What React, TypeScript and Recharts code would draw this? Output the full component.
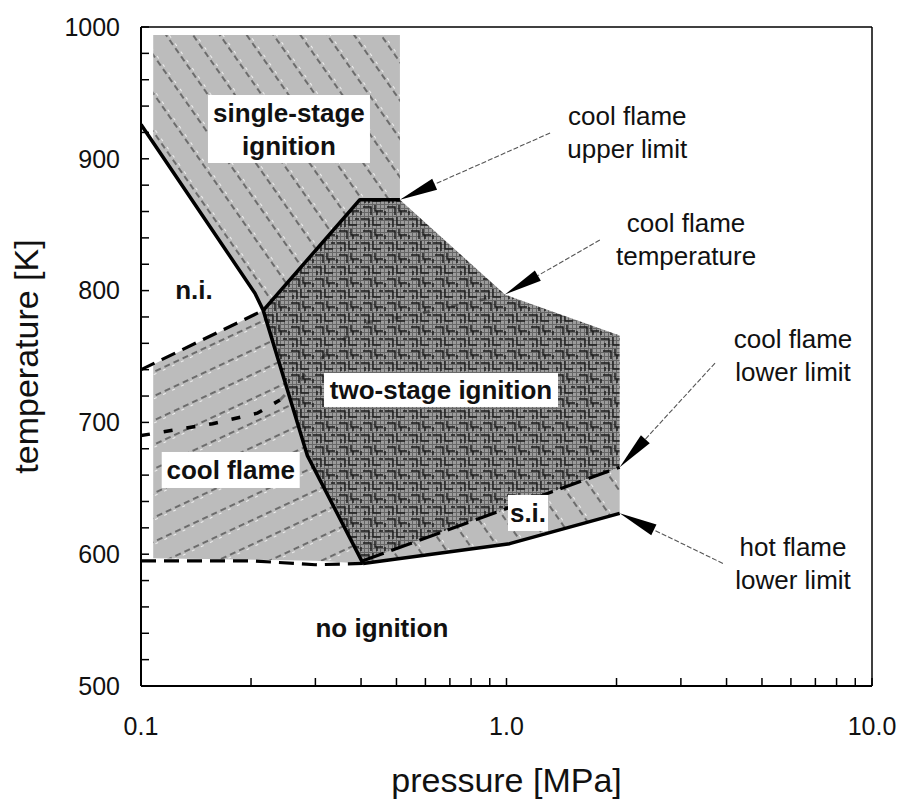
import React from "react";
import { ComposedChart, Scatter, XAxis, YAxis, ReferenceLine } from "recharts";

// vertices: p = pressure [MPa], T = temperature [K]
const singleStageRegion = [
  { p: 0.108, T: 994 }, { p: 0.511, T: 994 }, { p: 0.511, T: 869 }, { p: 0.397, T: 869 },
  { p: 0.216, T: 785 }, { p: 0.205, T: 798 }, { p: 0.108, T: 912 },
];
const coolFlameRegion = [
  { p: 0.108, T: 744 }, { p: 0.216, T: 785 }, { p: 0.285, T: 675 }, { p: 0.405, T: 593 },
  { p: 0.3, T: 595 }, { p: 0.108, T: 597 },
];
const twoStageRegion = [
  { p: 0.216, T: 785 }, { p: 0.397, T: 869 }, { p: 0.511, T: 869 }, { p: 0.99, T: 797 },
  { p: 2.04, T: 766 }, { p: 2.04, T: 666 }, { p: 0.405, T: 595 }, { p: 0.285, T: 675 },
];
const siRegion = [
  { p: 0.405, T: 595 }, { p: 2.04, T: 666 }, { p: 2.04, T: 631 }, { p: 1.02, T: 608 }, { p: 0.405, T: 593 },
];

// boundary lines
const ignitionLimit = [
  { p: 0.1, T: 926 }, { p: 0.205, T: 798 }, { p: 0.216, T: 785 }, { p: 0.285, T: 675 }, { p: 0.405, T: 593 },
];
const coolFlameUpper = [{ p: 0.216, T: 785 }, { p: 0.397, T: 869 }, { p: 0.511, T: 869 }];
const niLower = [{ p: 0.1, T: 740 }, { p: 0.216, T: 785 }];
const noIgnitionLimit = [{ p: 0.1, T: 595 }, { p: 0.2, T: 595 }, { p: 0.3, T: 592 }, { p: 0.405, T: 593 }];
const hotFlameLower = [{ p: 0.405, T: 593 }, { p: 1.02, T: 608 }, { p: 2.04, T: 631 }];
const coolFlameLower = [{ p: 0.405, T: 595 }, { p: 2.04, T: 666 }];
// cool flame temperature: visible part in the cool flame zone, faint part inside two-stage zone
const coolFlameTempLow = [
  { p: 0.1, T: 690 }, { p: 0.157, T: 699 }, { p: 0.208, T: 707 }, { p: 0.24, T: 717 },
];
const coolFlameTempHigh = [
  { p: 0.24, T: 717 }, { p: 0.329, T: 755 }, { p: 0.405, T: 775 }, { p: 0.545, T: 781 }, { p: 0.99, T: 797 },
];

const pressureTicks = [0.1, 0.2, 0.3, 0.4, 0.5, 0.6, 0.7, 0.8, 0.9, 1, 2, 3, 4, 5, 6, 7, 8, 9, 10];
const pressureLabels = [0.1, 1, 10];
const temperatureTicks = [
  500, 520, 540, 560, 580, 600, 620, 640, 660, 680, 700, 720, 740, 760, 780, 800,
  820, 840, 860, 880, 900, 920, 940, 960, 980, 1000,
];

// annotations: anchor point, text
const regionLabels = [
  { at: { p: 0.254, T: 922.6 }, lines: ["single-stage", "ignition"], box: [162, 68] },
  { at: { p: 0.662, T: 724.6 }, lines: ["two-stage ignition"], box: [234, 34] },
  { at: { p: 0.176, T: 663.9 }, lines: ["cool flame"], box: [138, 36] },
  { at: { p: 1.145, T: 631.3 }, lines: ["s.i."], box: [40, 36] },
  { at: { p: 0.1396, T: 800.5 }, lines: ["n.i."], box: null },
  { at: { p: 0.456, T: 544 }, lines: ["no ignition"], box: null },
];
const arrowNotes = [
  { text: { p: 2.14, T: 920 }, from: { p: 1.316, T: 919.6 }, tip: { p: 0.511, T: 869 }, lines: ["cool flame", "upper limit"] },
  { text: { p: 3.1, T: 839 }, from: { p: 1.8, T: 838.4 }, tip: { p: 0.99, T: 797 }, lines: ["cool flame", "temperature"] },
  { text: { p: 6.08, T: 751 }, from: { p: 3.72, T: 745 }, tip: { p: 2.04, T: 666 }, lines: ["cool flame", "lower limit"] },
  { text: { p: 6.08, T: 593 }, from: { p: 3.91, T: 593 }, tip: { p: 2.04, T: 631 }, lines: ["hot flame", "lower limit"] },
];

const toPath = (pts: any[], close: boolean) =>
  pts.map((pt, i) => `${i ? "L" : "M"}${pt.x},${pt.y}`).join(" ") + (close ? " Z" : "");

const noDot = () => <g />;

const polygon = (fill: string) => (lp: any) => <path d={toPath(lp.points, true)} fill={fill} stroke="none" />;

const arrow = (lp: any) => {
  const [a, b] = lp.points;
  const dx = b.x - a.x, dy = b.y - a.y;
  const len = Math.hypot(dx, dy);
  const ux = dx / len, uy = dy / len;
  const hl = 38, hw = 6;
  const bx = b.x - ux * hl, by = b.y - uy * hl;
  return (
    <g>
      <line x1={a.x} y1={a.y} x2={bx} y2={by} stroke="#555" strokeWidth={1.1} strokeDasharray="5 2" />
      <path d={`M${b.x},${b.y} L${bx - uy * hw},${by + ux * hw} L${bx + uy * hw},${by - ux * hw} Z`} fill="#000" />
    </g>
  );
};

const textBlock = (lines: string[], box: number[] | null, bold: boolean, size: number) => (pr: any) => {
  const { cx, cy } = pr;
  const gap = 33;
  const first = cy - ((lines.length - 1) * gap) / 2 + 9;
  return (
    <g>
      {box && <rect x={cx - box[0] / 2} y={cy - box[1] / 2} width={box[0]} height={box[1]} fill="#fff" />}
      {lines.map((l, i) => (
        <text key={i} x={cx} y={first + i * gap} textAnchor="middle" fontSize={size}
          fontWeight={bold ? "bold" : "normal"} fill="#111">{l}</text>
      ))}
    </g>
  );
};

const thick = { stroke: "#000", strokeWidth: 3.5, strokeLinejoin: "round" as const };
const dashed = { stroke: "#000", strokeWidth: 3.2, strokeDasharray: "15 8" };

export default function App() {
  return (
    <div style={{ position: "absolute", left: 0, top: 0, fontFamily: "'Liberation Sans', Arial, sans-serif", background: "#fff" }}>
      <ComposedChart width={904} height={801} margin={{ top: 27, right: 32, bottom: 0, left: 0 }}>
        <defs>
          <pattern id="hatchSteep" patternUnits="userSpaceOnUse" width="22" height="30" patternTransform="rotate(-35)">
            <rect width="22" height="30" fill="#bcbcbc" />
            <line x1="6" y1="0" x2="6" y2="30" stroke="#5e5e5e" strokeWidth="1.7" strokeDasharray="6 4" />
            <line x1="8.5" y1="0" x2="8.5" y2="30" stroke="#eeeeee" strokeWidth="1" strokeDasharray="3 7" strokeDashoffset="4" />
          </pattern>
          <pattern id="hatchFlat" patternUnits="userSpaceOnUse" width="22" height="30" patternTransform="rotate(65)">
            <rect width="22" height="30" fill="#bcbcbc" />
            <line x1="6" y1="0" x2="6" y2="30" stroke="#5e5e5e" strokeWidth="1.7" strokeDasharray="6 4" />
            <line x1="8.5" y1="0" x2="8.5" y2="30" stroke="#eeeeee" strokeWidth="1" strokeDasharray="3 7" strokeDashoffset="4" />
          </pattern>
          <pattern id="maze" patternUnits="userSpaceOnUse" width="24" height="24">
            <rect width="24" height="24" fill="#9c9c9c" />
            <path d="M0 0.5H24M0 4.5H24M0 8.5H24M0 12.5H24M0 16.5H24M0 20.5H24M0.5 0V24M4.5 0V24M8.5 0V24M12.5 0V24M16.5 0V24M20.5 0V24"
              stroke="#666" strokeWidth="1" />
            <path d="M1 3H9V11M13 1V9H21M3 15H11V23M15 13V19H23M19 3H23M5 7V11M17 23V19M1 19V23"
              stroke="#1a1a1a" strokeWidth="1.4" fill="none" />
          </pattern>
        </defs>
        <XAxis dataKey="p" type="number" scale="log" domain={[0.1, 10]} ticks={pressureTicks} interval={0}
          allowDataOverflow height={115}
          tickFormatter={(v: number) => (pressureLabels.includes(v) ? v.toFixed(1) : "")}
          tickSize={-8} tickMargin={39}
          axisLine={{ stroke: "#000", strokeWidth: 2 }} tickLine={{ stroke: "#000", strokeWidth: 1.5 }}
          tick={{ fill: "#111", fontSize: 25 }}
          label={{
            content: (props: any) => {
              const vb = props.viewBox;
              return <text x={vb.x + vb.width / 2} y={vb.y + vb.height - 9} textAnchor="middle" fontSize={34} fill="#111">pressure [MPa]</text>;
            },
          }}
        />
        <YAxis dataKey="T" type="number" domain={[500, 1000]} ticks={temperatureTicks} interval={0}
          allowDataOverflow width={141}
          tickFormatter={(v: number) => (v % 100 === 0 ? String(v) : "")}
          tickSize={-8} tickMargin={29}
          axisLine={{ stroke: "#000", strokeWidth: 2 }} tickLine={{ stroke: "#000", strokeWidth: 1.5 }}
          tick={{ fill: "#111", fontSize: 25 }}
          label={{
            content: (props: any) => {
              const vb = props.viewBox;
              const cy = vb.y + vb.height / 2;
              return <text x={26} y={cy} transform={`rotate(-90 26 ${cy})`} textAnchor="middle" dominantBaseline="central" fontSize={34} fill="#111">temperature [K]</text>;
            },
          }}
        />
        <ReferenceLine y={1000} stroke="#000" strokeWidth={1.5} />
        <ReferenceLine x={10} stroke="#000" strokeWidth={1.5} />

        <Scatter data={singleStageRegion} shape={noDot} line={polygon("url(#hatchSteep)")} isAnimationActive={false} />
        <Scatter data={coolFlameRegion} shape={noDot} line={polygon("url(#hatchFlat)")} isAnimationActive={false} />
        <Scatter data={siRegion} shape={noDot} line={polygon("url(#hatchSteep)")} isAnimationActive={false} />
        <Scatter data={twoStageRegion} shape={noDot} line={polygon("url(#maze)")} isAnimationActive={false} />

        <Scatter data={coolFlameTempLow} shape={noDot} line={{ stroke: "#000", strokeWidth: 3.5, strokeDasharray: "9 14" }} isAnimationActive={false} />
        <Scatter data={coolFlameTempHigh} shape={noDot} line={{ stroke: "#111", strokeWidth: 3, strokeDasharray: "7 22", strokeOpacity: 0.45 }} isAnimationActive={false} />
        <Scatter data={ignitionLimit} shape={noDot} line={thick} isAnimationActive={false} />
        <Scatter data={coolFlameUpper} shape={noDot} line={thick} isAnimationActive={false} />
        <Scatter data={hotFlameLower} shape={noDot} line={thick} isAnimationActive={false} />
        <Scatter data={niLower} shape={noDot} line={dashed} isAnimationActive={false} />
        <Scatter data={noIgnitionLimit} shape={noDot} line={dashed} isAnimationActive={false} />
        <Scatter data={coolFlameLower} shape={noDot} line={{ stroke: "#000", strokeWidth: 3.2, strokeDasharray: "22 8" }} isAnimationActive={false} />

        {arrowNotes.map((n, i) => (
          <Scatter key={`a${i}`} data={[n.from, n.tip]} shape={noDot} line={arrow} isAnimationActive={false} />
        ))}
        {arrowNotes.map((n, i) => (
          <Scatter key={`t${i}`} data={[n.text]} shape={textBlock(n.lines, null, false, 26)} isAnimationActive={false} />
        ))}
        {regionLabels.map((r, i) => (
          <Scatter key={`r${i}`} data={[r.at]} shape={textBlock(r.lines, r.box, true, 26)} isAnimationActive={false} />
        ))}
      </ComposedChart>
    </div>
  );
}
